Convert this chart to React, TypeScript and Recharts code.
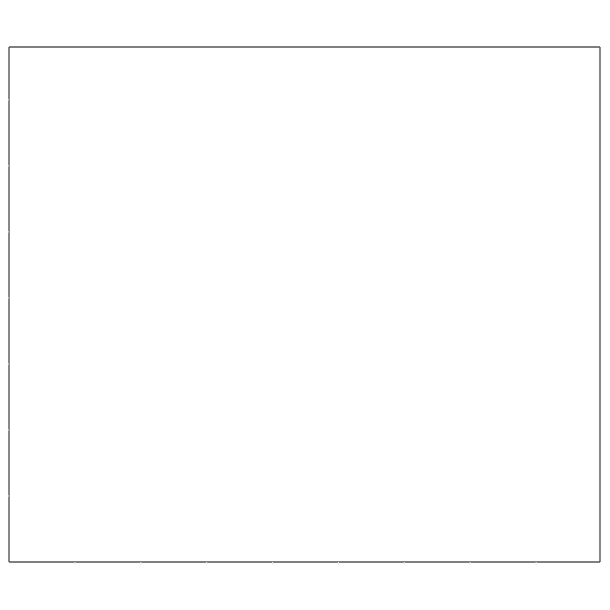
import React from 'react';
import { LineChart, Line, XAxis, YAxis } from 'recharts';

const xTicks = [1, 2, 3, 4, 5, 6, 7, 8];
const yTicks = [1, 2, 3, 4, 5, 6, 7];
const xCategories = [0, 1, 2, 3, 4, 5, 6, 7, 8];
const yValues: (number | null)[] = [null, null, null, null, null, null, null, null, null];
const seriesData = xCategories.map((x, i) => ({ x, y: yValues[i] }));

const frame = '#555555';
const tickColor = '#ececec';

export default function App() {
  return (
    <LineChart
      width={594}
      height={594}
      data={seriesData}
      margin={{ top: 38, right: 1, bottom: 39, left: 0 }}
    >
      <XAxis
        xAxisId="b"
        type="number"
        dataKey="x"
        domain={[0, 8.97]}
        ticks={xTicks}
        orientation="bottom"
        height={1}
        axisLine={{ stroke: frame, strokeWidth: 1.4 }}
        tickLine={{ stroke: tickColor }}
        tickSize={3}
        tickFormatter={() => ''}
        allowDataOverflow
      />
      <XAxis
        xAxisId="t"
        type="number"
        dataKey="x"
        domain={[0, 8.97]}
        orientation="top"
        height={1}
        axisLine={{ stroke: frame, strokeWidth: 1.4 }}
        tick={false}
        tickLine={false}
        allowDataOverflow
      />
      <YAxis
        yAxisId="l"
        type="number"
        domain={[0, 7.8]}
        ticks={yTicks}
        orientation="left"
        width={1}
        axisLine={{ stroke: frame, strokeWidth: 1.4 }}
        tickLine={{ stroke: tickColor }}
        tickSize={3}
        tickFormatter={() => ''}
        allowDataOverflow
      />
      <YAxis
        yAxisId="r"
        type="number"
        domain={[0, 7.8]}
        orientation="right"
        width={1}
        axisLine={{ stroke: frame, strokeWidth: 1.4 }}
        tick={false}
        tickLine={false}
        allowDataOverflow
      />
      <Line
        xAxisId="b"
        yAxisId="l"
        dataKey="y"
        stroke="#1f77b4"
        dot={false}
        connectNulls={false}
        isAnimationActive={false}
      />
      <Line
        xAxisId="t"
        yAxisId="r"
        dataKey="y"
        stroke="#1f77b4"
        dot={false}
        legendType="none"
        isAnimationActive={false}
      />
    </LineChart>
  );
}
